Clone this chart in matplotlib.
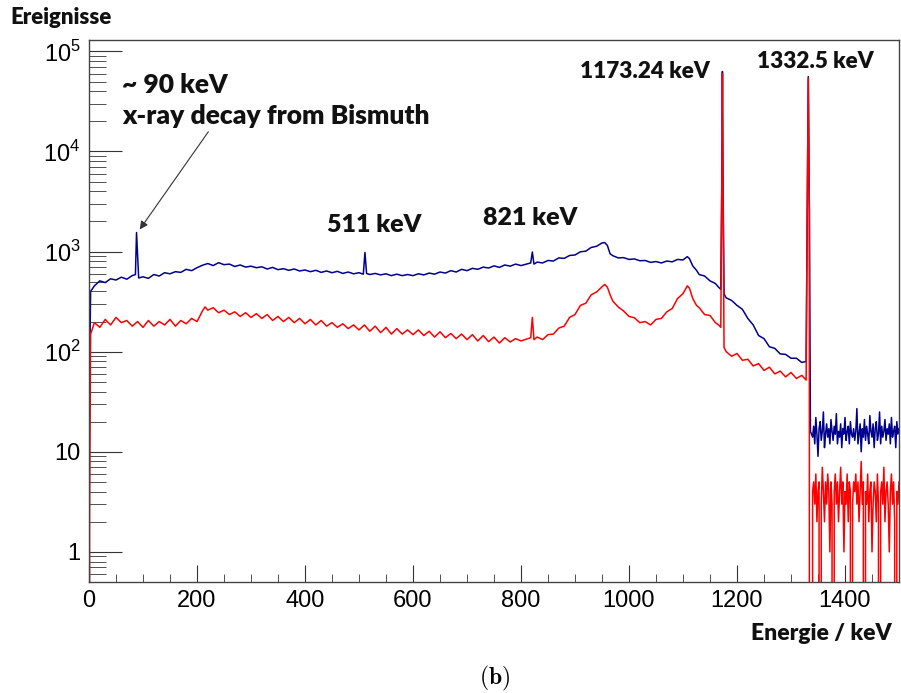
import numpy as np
import matplotlib.pyplot as plt
from matplotlib.ticker import MultipleLocator, LogLocator, FixedLocator, NullFormatter

# ---- data (energy in keV, counts) ----
blue_E = [0, 3, 10, 20, 30, 40, 50, 60, 70, 80, 86, 88, 90, 92, 100, 110, 120, 130, 140, 150,
          160, 170, 180, 190, 200, 210, 220, 230, 240, 250, 260, 270, 280, 290, 300, 310, 320,
          330, 340, 350, 360, 370, 380, 390, 400, 410, 420, 430, 440, 450, 460, 470, 480, 490,
          500, 508, 511, 514, 520, 530, 540, 550, 560, 570, 580, 590, 600, 610, 620, 630, 640,
          650, 660, 670, 680, 690, 700, 710, 720, 730, 740, 750, 760, 770, 780, 790, 800, 818,
          821, 824, 830, 840, 850, 860, 870, 880, 890, 900, 910, 920, 930, 940, 950, 955, 960,
          965, 970, 980, 990, 1000, 1010, 1020, 1030, 1040, 1050, 1060, 1070, 1080, 1090, 1100,
          1108, 1112, 1118, 1125, 1130, 1140, 1150, 1160, 1166, 1170, 1172, 1173, 1174, 1176,
          1178, 1180, 1190, 1200, 1210, 1220, 1230, 1240, 1250, 1260, 1270, 1280, 1290, 1300,
          1310, 1320, 1328, 1330, 1332, 1334, 1336]
blue_counts = [20, 400, 455, 510, 490, 535, 520, 555, 530, 575, 590, 1550, 900, 545, 560, 540,
               590, 570, 615, 600,
               630, 620, 665, 645, 690, 730, 760, 725, 775, 740, 750, 710, 735, 700, 715, 690, 705,
               670, 695, 660, 675, 650, 670, 640, 655, 630, 650, 620, 640, 615, 635, 605, 625, 600,
               615, 595, 980, 605, 590, 605, 585, 600, 575, 595, 575, 590, 575, 600, 585, 610, 595,
               625, 610, 645, 625, 665, 645, 680, 665, 700, 685, 720, 695, 735, 715, 750, 725, 770,
               990, 750, 785, 770, 815, 805, 865, 855, 915, 925, 995, 1010, 1100, 1130, 1220, 1230,
               1150,
               950, 910, 865, 870, 835, 845, 810, 815, 780, 795, 770, 805, 790, 835, 825,
               890, 850, 720, 650, 590, 570, 510, 480, 440, 420, 6000, 63000, 6000, 380,
               360, 345, 325, 290, 265, 215, 185, 145, 135, 112, 108, 95, 94, 86,
               86, 78, 80, 2500, 56000, 2500, 16]

red_E = [0, 1, 3, 10, 20, 30, 40, 50, 60, 70, 80, 90, 100, 110, 120, 130, 140, 150, 160, 170,
         180, 190, 200, 205, 210, 215, 220, 230, 240, 250, 260, 270, 280, 290, 300, 310, 320,
         330, 340, 350, 360, 370, 380, 390, 400, 410, 420, 430, 440, 450, 460, 470, 480, 490,
         500, 510, 520, 530, 540, 550, 560, 570, 580, 590, 600, 610, 620, 630, 640, 650, 660,
         670, 680, 690, 700, 710, 720, 730, 740, 750, 760, 770, 780, 790, 800, 818, 821, 824,
         830, 840, 850, 860, 870, 880, 890, 900, 910, 920, 930, 940, 950, 955, 960, 965, 970,
         980, 990, 1000, 1010, 1020, 1030, 1040, 1050, 1060, 1070, 1080, 1090, 1100, 1108, 1112,
         1118, 1125, 1130, 1140, 1150, 1160, 1166, 1170, 1172, 1173, 1174, 1176, 1178, 1180,
         1190, 1200, 1210, 1220, 1230, 1240, 1250, 1260, 1270, 1280, 1290, 1300, 1310, 1320,
         1328, 1330, 1332, 1334, 1336]
red_counts = [0, 2, 150, 195, 175, 210, 185, 220, 195, 205, 180, 200, 175, 205, 180, 200, 185,
              210, 180, 205,
              190, 215, 200, 225, 255, 280, 260, 275, 245, 260, 235, 250, 225, 245, 220, 240, 215,
              235, 205, 225, 200, 220, 195, 215, 190, 210, 185, 205, 180, 195, 175, 190, 170, 185,
              165, 185, 160, 180, 155, 175, 150, 170, 150, 165, 148, 165, 145, 160, 140, 158, 138,
              152, 135, 150, 132, 148, 128, 145, 126, 140, 122, 138, 125, 135, 128, 138, 220, 132,
              140, 132, 148, 150, 172, 180, 220, 235, 290, 305, 370, 395, 445, 470, 440, 370, 320,
              280, 255, 225, 218, 195, 200, 185, 210, 215, 250, 270, 340, 380, 455, 430,
              340, 290, 275, 235, 230, 195, 185, 175, 6000, 60000, 6000, 110, 105, 100,
              90, 96, 82, 84, 72, 76, 65, 70, 60, 64, 56, 62, 54, 58,
              52, 2500, 54000, 2500, 0]

# region above the 1332 keV line, 2 keV bins
tail_E = np.arange(1340, 1501, 2)
blue_tail = [14, 18, 12, 22, 15, 9, 17, 20, 13, 16, 25, 11, 15, 19, 14, 17, 12, 21, 16, 13,
             18, 15, 24, 12, 16, 14, 19, 11, 17, 15, 22, 13, 16, 18, 12, 20, 15, 14, 17, 13,
             16, 27, 12, 15, 19, 10, 17, 14, 21, 13, 18, 15, 12, 23, 16, 14, 19, 11, 17, 20,
             13, 15, 25, 12, 18, 14, 16, 21, 13, 17, 15, 19, 12, 22, 14, 16, 18, 11, 20, 15,
             17]
red_tail = [4, 5, 3, 6, 2, 4, 5, 0, 3, 7, 4, 2, 5, 3, 6, 4, 1, 5, 3, 0,
            4, 6, 3, 5, 2, 4, 7, 3, 5, 1, 4, 3, 6, 2, 5, 4, 0, 3, 5, 4,
            6, 3, 5, 2, 4, 8, 3, 5, 0, 4, 3, 6, 2, 4, 5, 1, 3, 5, 4, 2,
            6, 3, 0, 4, 5, 3, 7, 2, 4, 5, 3, 1, 4, 6, 3, 5, 2, 0, 4, 3,
            5]

x_ticks = [0, 200, 400, 600, 800, 1000, 1200, 1400]
y_ticks = [1, 10, 100, 1000, 10000, 100000]
y_labels = ['1', '10', r'$10^2$', r'$10^3$', r'$10^4$', r'$10^5$']

plt.rcParams['font.family'] = ['Liberation Sans', 'DejaVu Sans']
plt.rcParams['mathtext.fontset'] = 'custom'
plt.rcParams['mathtext.rm'] = 'Liberation Sans'

fig = plt.figure(figsize=(9.01, 6.93), dpi=100)
ax = fig.add_axes([89 / 901, 111 / 693, 810 / 901, 542 / 693])

ax.plot(np.concatenate([blue_E, tail_E]), np.concatenate([blue_counts, blue_tail]),
        color='#00008f', lw=1.1)
ax.plot(np.concatenate([red_E, tail_E]), np.concatenate([red_counts, red_tail]),
        color='#ff0000', lw=1.1)

ax.set_yscale('log', nonpositive='clip')
ax.set_xlim(0, 1500)
ax.set_ylim(0.5, 1.3e5)

ax.xaxis.set_major_locator(FixedLocator(x_ticks))
ax.xaxis.set_minor_locator(MultipleLocator(50))
ax.yaxis.set_major_locator(FixedLocator(y_ticks))
ax.set_yticklabels(y_labels)
ax.yaxis.set_minor_locator(LogLocator(base=10, subs=np.arange(2, 10)))
ax.yaxis.set_minor_formatter(NullFormatter())
ax.tick_params(axis='both', which='major', direction='in', labelsize=17, color='#333333')
ax.tick_params(axis='y', which='major', length=24, pad=6)
ax.tick_params(axis='y', which='minor', direction='in', length=12, color='#333333')
ax.tick_params(axis='x', which='major', length=12, pad=6)
ax.tick_params(axis='x', which='minor', direction='in', length=6, color='#333333')
for s in ax.spines.values():
    s.set_color('#444444')
    s.set_linewidth(1)

bold = dict(family=['Lato', 'DejaVu Sans'], fontweight='heavy', color='#111111')
fig.text(10 / 901, 1 - 18 / 693, 'Ereignisse', fontsize=16, va='center', ha='left', **bold)
fig.text(892 / 901, 1 - 633 / 693, 'Energie / keV', fontsize=16.5, va='center', ha='right', **bold)
fig.text(122 / 901, 1 - 85 / 693, '~ 90 keV', fontsize=19, va='center', ha='left', **bold)
fig.text(122 / 901, 1 - 116 / 693, 'x-ray decay from Bismuth', fontsize=19, va='center',
         ha='left', **bold)
fig.text(327 / 901, 1 - 225 / 693, '511 keV', fontsize=18, va='center', ha='left', **bold)
fig.text(483 / 901, 1 - 218 / 693, '821 keV', fontsize=18, va='center', ha='left', **bold)
fig.text(580 / 901, 1 - 72 / 693, '1173.24 keV', fontsize=16.2, va='center', ha='left', **bold)
fig.text(757 / 901, 1 - 62 / 693, '1332.5 keV', fontsize=16.2, va='center', ha='left', **bold)

ax.annotate('', xy=(91, 1580), xytext=(224, 16600),
            arrowprops=dict(arrowstyle='-|>', color='#333333', lw=0.8, mutation_scale=12))

fig.text(495 / 901, 1 - 678 / 693, r'$\mathbf{(b)}$', fontsize=17, ha='center', va='center',
         math_fontfamily='cm')

fig.savefig('out.png', dpi=100)
